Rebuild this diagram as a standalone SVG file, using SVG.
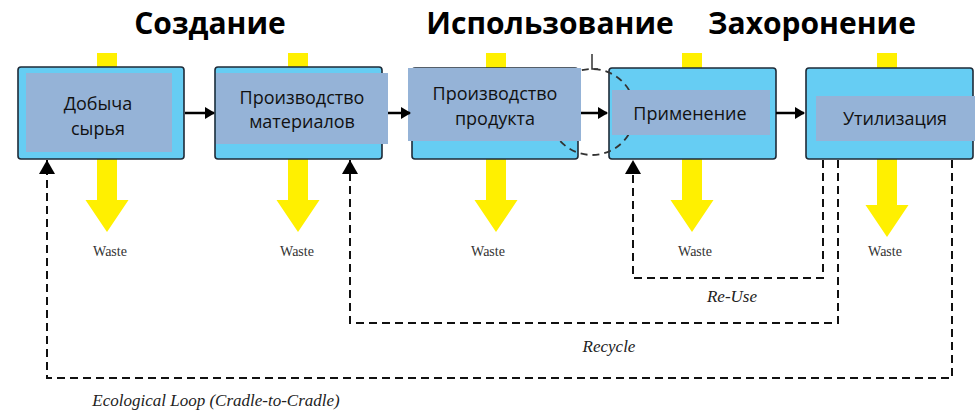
<svg xmlns="http://www.w3.org/2000/svg" width="975" height="411" viewBox="0 0 975 411">
<defs>
<style>
.title{font-family:"Open Sans","Liberation Sans",sans-serif;font-weight:bold;font-size:30px;fill:#000;text-anchor:middle}
.box{fill:#66CDF3;stroke:#1E2B38;stroke-width:1.6}
.inner{fill:#95B3D7}
.lbl{font-family:"Open Sans","Liberation Sans",sans-serif;font-size:18px;fill:#111;text-anchor:middle}
.waste{font-family:"Liberation Serif",serif;font-size:14px;fill:#333;text-anchor:middle}
.ital{font-family:"Liberation Serif",serif;font-style:italic;font-size:17px;fill:#222;text-anchor:middle}
.flow{stroke:#000;stroke-width:2.5;fill:none;marker-end:url(#ah)}
.loop{stroke:#111;stroke-width:2;stroke-dasharray:8 5;fill:none;marker-end:url(#up)}
.yel{fill:#FFF000}
</style>
<marker id="ah" viewBox="0 0 10 12" refX="9" refY="6" markerWidth="10" markerHeight="12" markerUnits="userSpaceOnUse" orient="auto" preserveAspectRatio="none"><path d="M0,0 L10,6 L0,12 z" fill="#000"/></marker>
<marker id="up" viewBox="0 0 14 16" refX="14" refY="8" markerWidth="14" markerHeight="16" markerUnits="userSpaceOnUse" orient="auto" preserveAspectRatio="none"><path d="M0,0 L14,8 L0,16 z" fill="#000"/></marker>
<path id="ya" d="M-10,0 V147 H-21.5 L0,179 L21.5,147 H10 V0 z"/>
<path id="yb" d="M-10,0 V152 H-21.5 L0,184 L21.5,152 H10 V0 z"/>
</defs>
<rect width="975" height="411" fill="#fff"/>

<g id="titles">
<text class="title" x="210" y="34">Создание</text>
<text class="title" x="550" y="34">Использование</text>
<text class="title" x="812" y="34">Захоронение</text>
</g>

<g id="waste-arrows">
<use href="#ya" class="yel" x="107" y="53"/>
<use href="#ya" class="yel" x="298" y="53"/>
<use href="#ya" class="yel" x="496" y="53"/>
<use href="#ya" class="yel" x="692" y="53"/>
<use href="#yb" class="yel" x="887" y="53"/>
</g>

<g id="n1">
<rect class="box" x="18" y="67" width="166" height="92" rx="3"/>
<rect class="inner" x="26" y="73" width="146" height="79"/>
<text class="lbl" x="98" y="110">Добыча</text>
<text class="lbl" x="98" y="135">сырья</text>
</g>
<g id="n2">
<rect class="box" x="215" y="67" width="167" height="92" rx="3"/>
<rect class="inner" x="216" y="73" width="172" height="71"/>
<text class="lbl" x="302" y="104">Производство</text>
<text class="lbl" x="302" y="128">материалов</text>
</g>
<g id="n3">
<rect class="box" x="412" y="68" width="166" height="91" rx="3"/>
</g>
<g id="n4">
<rect class="box" x="609" y="68" width="167" height="91" rx="3"/>
</g>
<g id="n5">
<rect class="box" x="806" y="68" width="167" height="91" rx="3"/>
</g>

<g id="focus">
<circle cx="592" cy="112" r="43" fill="none" stroke="#333" stroke-width="1.8" stroke-dasharray="7 5"/>
<path d="M592,54 V69 H598" fill="none" stroke="#333" stroke-width="1.5"/>
</g>

<g id="n3-label">
<rect class="inner" x="408" y="68" width="173" height="73"/>
<text class="lbl" x="495" y="100">Производство</text>
<text class="lbl" x="495" y="125">продукта</text>
</g>
<g id="n4-label">
<rect class="inner" x="612" y="90" width="158" height="45"/>
<text class="lbl" x="690" y="120">Применение</text>
</g>
<g id="n5-label">
<rect class="inner" x="816" y="96" width="159" height="45"/>
<text class="lbl" x="895" y="125">Утилизация</text>
</g>

<g id="connectors">
<line class="flow" x1="185" y1="113" x2="214" y2="113"/>
<line class="flow" x1="388" y1="113" x2="410" y2="113"/>
<line class="flow" x1="581" y1="113" x2="607" y2="113"/>
<line class="flow" x1="776" y1="113" x2="804" y2="113"/>
<path class="loop" d="M823,160 V278 H633 V160"/>
<path class="loop" d="M838,160 V323 H350 V160"/>
<path class="loop" d="M952,160 V378 H47 V160"/>
</g>

<g id="labels">
<text class="waste" x="110" y="256">Waste</text>
<text class="waste" x="297" y="256">Waste</text>
<text class="waste" x="488" y="256">Waste</text>
<text class="waste" x="695" y="256">Waste</text>
<text class="waste" x="885" y="256">Waste</text>
<text class="ital" x="732" y="302">Re-Use</text>
<text class="ital" x="609" y="352">Recycle</text>
<text class="ital" x="216" y="406">Ecological Loop (Cradle-to-Cradle)</text>
</g>
</svg>
